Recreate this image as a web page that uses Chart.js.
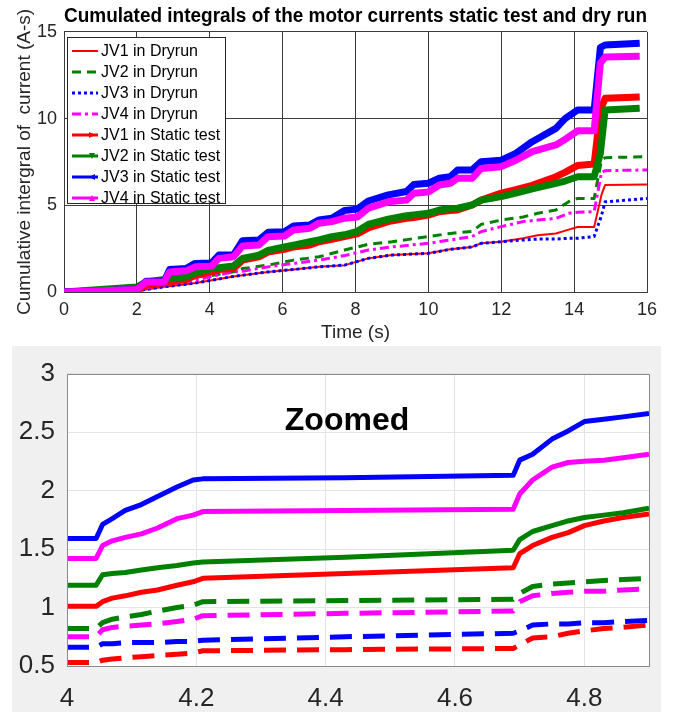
<!DOCTYPE html>
<html>
<head>
<meta charset="utf-8">
<script src="https://cdn.jsdelivr.net/npm/chart.js@4.4.1/dist/chart.umd.min.js"></script>
<style>
  body { margin: 0; background: #fff; }
  #wrap { position: relative; width: 674px; height: 717px; overflow: hidden; }
  #topChart { position: absolute; left: 0; top: 0; }
  #zoomBox { position: absolute; left: 12px; top: 346px; width: 649px; height: 366px; background: #f0f0f0; }
  #zoomChart { position: absolute; left: 0; top: 0; }
</style>
</head>
<body>
<div id="wrap">
  <canvas id="topChart" width="674" height="345"></canvas>
  <div id="zoomBox"><canvas id="zoomChart" width="649" height="366"></canvas></div>
</div>
<script>
// Top plot - static test (time in s, cumulative integral in A-s)
const TIME_STATIC = [0, 1, 2, 2.25, 2.75, 2.9, 3.35, 3.6, 4.05, 4.25, 4.65, 4.9, 5.35, 5.6, 6.05, 6.3, 6.75, 7.0, 7.35, 7.7, 8.05, 8.35, 8.9, 9.4, 9.6, 10.0, 10.3, 10.6, 10.8, 11.2, 11.45, 12.0, 12.4, 12.85, 13.5, 13.75, 14.1, 14.55, 14.72, 14.85, 15.8];
const JV1_STATIC = [0, 0.05, 0.1, 0.39, 0.55, 0.58, 0.72, 0.95, 1.16, 1.3, 1.35, 1.84, 2.03, 2.3, 2.46, 2.6, 2.71, 2.9, 3.04, 3.2, 3.35, 3.7, 4.06, 4.25, 4.3, 4.44, 4.63, 4.7, 4.73, 5.02, 5.3, 5.7, 5.9, 6.15, 6.65, 6.9, 7.3, 7.38, 10.5, 11.17, 11.25];
const JV2_STATIC = [0, 0.15, 0.29, 0.58, 0.72, 0.77, 0.87, 1.1, 1.35, 1.4, 1.5, 1.94, 2.13, 2.4, 2.6, 2.7, 2.9, 3.0, 3.19, 3.3, 3.5, 3.9, 4.2, 4.4, 4.45, 4.54, 4.73, 4.8, 4.83, 5.02, 5.3, 5.5, 5.7, 5.95, 6.27, 6.4, 6.65, 6.65, 8.0, 10.5, 10.6];
const JV3_STATIC = [0, 0.07, 0.14, 0.62, 0.62, 1.3, 1.35, 1.65, 1.68, 2.13, 2.13, 2.96, 3.0, 3.44, 3.48, 3.81, 3.87, 4.16, 4.26, 4.7, 4.78, 5.25, 5.6, 5.8, 6.2, 6.27, 6.56, 6.65, 7.04, 7.04, 7.52, 7.6, 8.0, 8.67, 9.44, 10.0, 10.5, 10.5, 14.1, 14.25, 14.35];
const JV4_STATIC = [0, 0.07, 0.14, 0.58, 0.58, 1.16, 1.22, 1.45, 1.49, 1.94, 2.03, 2.65, 2.71, 3.19, 3.23, 3.58, 3.68, 3.97, 4.06, 4.26, 4.32, 4.83, 5.2, 5.3, 5.7, 5.77, 6.17, 6.27, 6.56, 6.56, 7.13, 7.23, 7.6, 8.1, 8.48, 8.8, 9.3, 9.3, 13.2, 13.55, 13.6];

// Top plot - dry run
const TIME_DRY = [0, 1, 2, 2.25, 2.75, 3.35, 3.6, 4.05, 4.65, 4.9, 5.6, 6.3, 7.0, 7.7, 8.35, 9.0, 10.0, 10.6, 11.2, 11.45, 12.0, 12.6, 13.0, 13.5, 13.85, 14.1, 14.55, 14.75, 14.85, 16.0];
const JV1_DRY = [0, 0.02, 0.04, 0.15, 0.3, 0.45, 0.52, 0.68, 0.9, 0.97, 1.16, 1.3, 1.45, 1.55, 1.94, 2.13, 2.23, 2.46, 2.6, 2.81, 2.9, 3.1, 3.27, 3.37, 3.6, 3.75, 3.75, 5.6, 6.17, 6.2];
const JV2_DRY = [0, 0.03, 0.06, 0.3, 0.5, 0.62, 0.87, 0.95, 1.16, 1.35, 1.55, 1.84, 2.03, 2.42, 2.75, 2.9, 3.2, 3.38, 3.5, 3.9, 4.15, 4.33, 4.54, 4.73, 5.21, 5.4, 5.4, 7.6, 7.75, 7.8];
const JV3_DRY = [0, 0.02, 0.04, 0.15, 0.3, 0.45, 0.52, 0.68, 0.9, 0.97, 1.16, 1.3, 1.45, 1.55, 1.94, 2.13, 2.23, 2.46, 2.6, 2.81, 2.9, 3.0, 3.05, 3.05, 3.1, 3.1, 3.2, 4.4, 5.2, 5.4];
const JV4_DRY = [0, 0.02, 0.05, 0.25, 0.4, 0.6, 0.68, 0.9, 1.16, 1.2, 1.45, 1.65, 1.84, 2.1, 2.42, 2.6, 2.81, 3.0, 3.2, 3.48, 3.77, 4.06, 4.15, 4.25, 4.54, 4.6, 4.63, 6.9, 7.0, 7.04];

// Bottom plot - zoomed window 4 .. 4.9 s
const TIME_ZOOM = [4, 4.045, 4.055, 4.07, 4.09, 4.115, 4.14, 4.17, 4.195, 4.21, 4.43, 4.69, 4.70, 4.72, 4.75, 4.775, 4.80, 4.83, 4.86, 4.9];
const ZOOM_JV1_STATIC = [1.01, 1.01, 1.05, 1.08, 1.10, 1.13, 1.15, 1.19, 1.22, 1.25, 1.29, 1.34, 1.46, 1.53, 1.60, 1.64, 1.70, 1.74, 1.77, 1.80];
const ZOOM_JV2_STATIC = [1.19, 1.19, 1.28, 1.29, 1.30, 1.32, 1.34, 1.36, 1.38, 1.39, 1.43, 1.49, 1.58, 1.65, 1.70, 1.74, 1.77, 1.79, 1.81, 1.85];
const ZOOM_JV3_STATIC = [1.59, 1.59, 1.71, 1.76, 1.83, 1.88, 1.95, 2.03, 2.09, 2.10, 2.11, 2.13, 2.26, 2.31, 2.44, 2.51, 2.59, 2.61, 2.63, 2.66];
const ZOOM_JV4_STATIC = [1.42, 1.42, 1.53, 1.57, 1.60, 1.63, 1.68, 1.76, 1.79, 1.82, 1.83, 1.84, 1.97, 2.09, 2.20, 2.24, 2.25, 2.26, 2.28, 2.31];
const ZOOM_JV1_DRY = [0.53, 0.53, 0.55, 0.56, 0.57, 0.58, 0.59, 0.60, 0.61, 0.63, 0.64, 0.65, 0.68, 0.74, 0.75, 0.78, 0.80, 0.82, 0.83, 0.85];
const ZOOM_JV2_DRY = [0.82, 0.82, 0.87, 0.90, 0.92, 0.94, 0.97, 1.00, 1.02, 1.05, 1.06, 1.07, 1.12, 1.18, 1.20, 1.21, 1.22, 1.23, 1.24, 1.25];
const ZOOM_JV3_DRY = [0.66, 0.66, 0.69, 0.69, 0.70, 0.70, 0.70, 0.71, 0.71, 0.72, 0.75, 0.78, 0.80, 0.85, 0.86, 0.86, 0.87, 0.87, 0.88, 0.89];
const ZOOM_JV4_DRY = [0.75, 0.75, 0.81, 0.83, 0.84, 0.85, 0.86, 0.88, 0.90, 0.93, 0.95, 0.97, 1.05, 1.10, 1.12, 1.13, 1.14, 1.14, 1.15, 1.16];

// Tick labels
const TOP_X_TICKS = [0, 2, 4, 6, 8, 10, 12, 14, 16];
const TOP_Y_TICKS = [0, 5, 10, 15];
const ZOOM_X_TICKS = [4, 4.2, 4.4, 4.6, 4.8];
const ZOOM_Y_TICKS = [0.5, 1, 1.5, 2, 2.5, 3];

const FONT = 'Liberation Sans, Arial, sans-serif';
const TEXT = '#262626';
const RED = '#ff0000', GREEN = '#008000', BLUE = '#0000ff', MAGENTA = '#ff00ff';

function pts(xs, ys) {
    return xs.map((x, i) => ({ x: x, y: ys[i] }));
}

function line(label, xs, ys, color, width, dash, marker) {
    return {
        label: label,
        data: pts(xs, ys),
        borderColor: color,
        backgroundColor: color,
        borderWidth: width,
        borderDash: dash || [],
        pointRadius: 0,
        tension: 0,
        fill: false,
        borderJoinStyle: 'round',
        marker: marker
    };
}

const topSets = [
    line('JV1 in Dryrun', TIME_DRY, JV1_DRY, RED, 2),
    line('JV2 in Dryrun', TIME_DRY, JV2_DRY, GREEN, 3, [9, 6]),
    line('JV3 in Dryrun', TIME_DRY, JV3_DRY, BLUE, 3, [3, 3]),
    line('JV4 in Dryrun', TIME_DRY, JV4_DRY, MAGENTA, 3, [9, 4, 3, 4]),
    line('JV1 in Static test', TIME_STATIC, JV1_STATIC, RED, 7, null, 'right'),
    line('JV2 in Static test', TIME_STATIC, JV2_STATIC, GREEN, 7, null, 'down'),
    line('JV3 in Static test', TIME_STATIC, JV3_STATIC, BLUE, 7, null, 'left'),
    line('JV4 in Static test', TIME_STATIC, JV4_STATIC, MAGENTA, 7, null, 'up')
];
// later series drawn on top, like matlab
topSets.forEach((d, i) => { d.order = topSets.length - i; });

function triangle(ctx, x, y, dir, r) {
    ctx.beginPath();
    if (dir === 'right') { ctx.moveTo(x + r, y); ctx.lineTo(x - r, y - r); ctx.lineTo(x - r, y + r); }
    if (dir === 'left') { ctx.moveTo(x - r, y); ctx.lineTo(x + r, y - r); ctx.lineTo(x + r, y + r); }
    if (dir === 'up') { ctx.moveTo(x, y - r); ctx.lineTo(x - r, y + r); ctx.lineTo(x + r, y + r); }
    if (dir === 'down') { ctx.moveTo(x, y + r); ctx.lineTo(x - r, y - r); ctx.lineTo(x + r, y - r); }
    ctx.closePath();
    ctx.fill();
}

// Legend box inside the axes (north west)
const legendBox = {
    id: 'legendBox',
    afterDraw(chart) {
        const ctx = chart.ctx;
        ctx.save();
        ctx.fillStyle = '#fff';
        ctx.fillRect(67.5, 37.5, 158, 166);
        ctx.strokeStyle = TEXT;
        ctx.lineWidth = 1;
        ctx.strokeRect(67.5, 37.5, 158, 166);
        chart.data.datasets.forEach((d, i) => {
            const y = 51 + i * 21;
            ctx.strokeStyle = d.borderColor;
            ctx.lineWidth = d.marker ? 3 : Math.min(d.borderWidth, 3);
            ctx.setLineDash(d.borderDash);
            ctx.beginPath();
            ctx.moveTo(72, y);
            ctx.lineTo(98, y);
            ctx.stroke();
            ctx.setLineDash([]);
            if (d.marker) {
                ctx.fillStyle = d.borderColor;
                triangle(ctx, 92, y, d.marker, 3);
            }
            ctx.fillStyle = '#000';
            ctx.font = '16px ' + FONT;
            ctx.textBaseline = 'middle';
            ctx.fillText(d.label, 101, y + 1);
        });
        ctx.restore();
    }
};

const GRID_TOP = '#3c3c3c';
const tickFontTop = { family: FONT, size: 18 };
const labelFontTop = { family: FONT, size: 19 };

new Chart(document.getElementById('topChart'), {
    type: 'line',
    data: { datasets: topSets },
    options: {
        responsive: false,
        animation: false,
        devicePixelRatio: 1,
        layout: { padding: { left: 0, right: 27, top: 0, bottom: 0 } },
        plugins: {
            legend: { display: false },
            tooltip: { enabled: false },
            title: {
                display: true,
                fullSize: false,
                text: 'Cumulated integrals of the motor currents static test and dry run',
                color: '#000',
                font: { family: FONT, size: 19.5, weight: 'bold', lineHeight: 1.1 },
                padding: { top: 6, bottom: 4.5 }
            }
        },
        scales: {
            x: {
                type: 'linear',
                min: 0,
                max: 16,
                afterBuildTicks: s => { s.ticks = TOP_X_TICKS.map(v => ({ value: v })); },
                afterFit: s => { s.height = 53; },
                grid: { color: GRID_TOP, drawTicks: false },
                border: { color: GRID_TOP },
                ticks: { color: TEXT, font: tickFontTop, padding: 7, maxRotation: 0, callback: v => String(v) },
                title: { display: true, text: 'Time (s)', color: TEXT, font: labelFontTop, padding: { top: 0, bottom: 1 } }
            },
            y: {
                min: 0,
                max: 15,
                afterBuildTicks: s => { s.ticks = TOP_Y_TICKS.map(v => ({ value: v })); },
                afterFit: s => { s.width = 64; },
                grid: { color: GRID_TOP, drawTicks: false },
                border: { color: GRID_TOP },
                ticks: { color: TEXT, font: tickFontTop, padding: 7, callback: v => String(v) },
                title: { display: true, text: 'Cumulative intergral of  current (A-s)', color: TEXT, font: labelFontTop, padding: { top: 13, bottom: 0 } }
            }
        }
    },
    plugins: [legendBox]
});

// Zoomed plot
const zoomSets = [
    line('JV1 in Dryrun', TIME_ZOOM, ZOOM_JV1_DRY, RED, 5, [22, 11]),
    line('JV2 in Dryrun', TIME_ZOOM, ZOOM_JV2_DRY, GREEN, 5, [22, 11]),
    line('JV3 in Dryrun', TIME_ZOOM, ZOOM_JV3_DRY, BLUE, 5, [22, 11]),
    line('JV4 in Dryrun', TIME_ZOOM, ZOOM_JV4_DRY, MAGENTA, 5, [22, 11]),
    line('JV1 in Static test', TIME_ZOOM, ZOOM_JV1_STATIC, RED, 5),
    line('JV2 in Static test', TIME_ZOOM, ZOOM_JV2_STATIC, GREEN, 5),
    line('JV3 in Static test', TIME_ZOOM, ZOOM_JV3_STATIC, BLUE, 5),
    line('JV4 in Static test', TIME_ZOOM, ZOOM_JV4_STATIC, MAGENTA, 5)
];
zoomSets.forEach((d, i) => { d.order = zoomSets.length - i; });

const zoomDecor = {
    id: 'zoomDecor',
    beforeDraw(chart) {
        const a = chart.chartArea;
        chart.ctx.save();
        chart.ctx.fillStyle = '#fff';
        chart.ctx.fillRect(a.left, a.top, a.right - a.left, a.bottom - a.top);
        chart.ctx.restore();
    },
    afterDraw(chart) {
        const a = chart.chartArea;
        const ctx = chart.ctx;
        ctx.save();
        ctx.strokeStyle = '#8a8a8a';
        ctx.lineWidth = 1;
        ctx.strokeRect(Math.round(a.left) + 0.5, Math.round(a.top) + 0.5, Math.round(a.right - a.left), Math.round(a.bottom - a.top));
        ctx.fillStyle = '#000';
        ctx.font = 'bold 32px ' + FONT;
        ctx.textAlign = 'center';
        ctx.textBaseline = 'middle';
        ctx.fillText('Zoomed', 335, 75);
        ctx.restore();
    }
};

const tickFontZoom = { family: FONT, size: 26 };

new Chart(document.getElementById('zoomChart'), {
    type: 'line',
    data: { datasets: zoomSets },
    options: {
        responsive: false,
        animation: false,
        devicePixelRatio: 1,
        layout: { padding: { left: 0, right: 12, top: 16, bottom: 0 } },
        plugins: { legend: { display: false }, tooltip: { enabled: false } },
        scales: {
            x: {
                type: 'linear',
                min: 4,
                max: 4.9,
                afterBuildTicks: s => { s.ticks = ZOOM_X_TICKS.map(v => ({ value: v })); },
                afterFit: s => { s.height = 46; },
                grid: { color: '#e3e3e3', drawTicks: false },
                border: { display: false },
                ticks: { color: TEXT, font: tickFontZoom, padding: 17, maxRotation: 0, callback: v => String(v) }
            },
            y: {
                min: 0.5,
                max: 3,
                afterBuildTicks: s => { s.ticks = ZOOM_Y_TICKS.map(v => ({ value: v })); },
                afterFit: s => { s.width = 55; },
                grid: { color: '#e3e3e3', drawTicks: false },
                border: { display: false },
                ticks: { color: TEXT, font: tickFontZoom, padding: 12, callback: v => String(v) }
            }
        }
    },
    plugins: [zoomDecor]
});
</script>
</body>
</html>
